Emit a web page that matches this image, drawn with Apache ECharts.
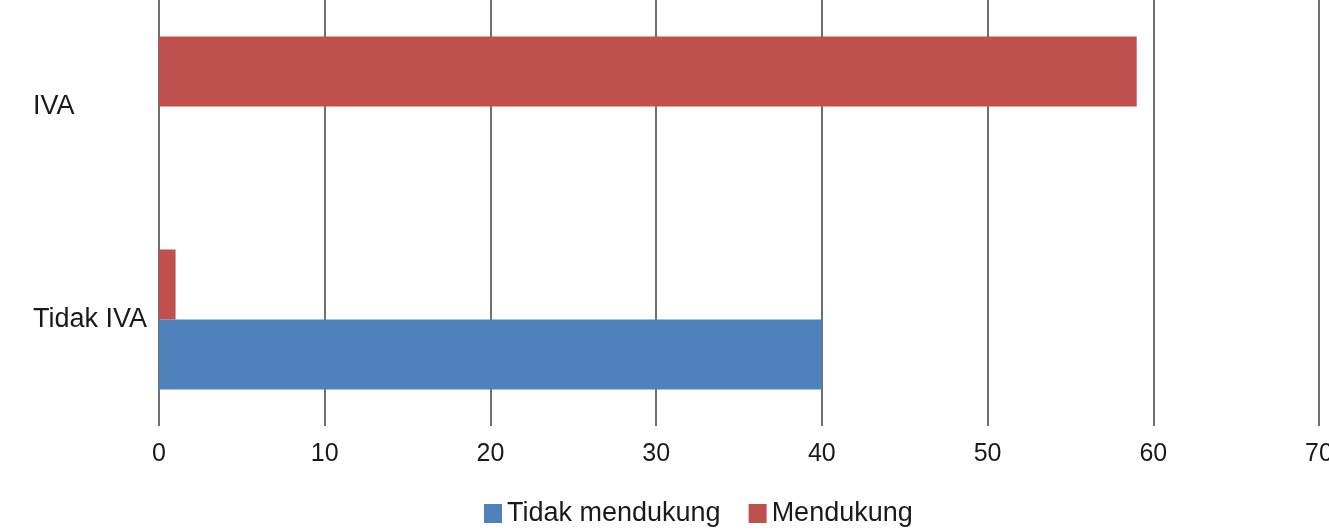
<!DOCTYPE html>
<html>
<head>
<meta charset="utf-8">
<script src="https://cdn.jsdelivr.net/npm/echarts@6/dist/echarts.min.js"></script>
<style>
html,body{margin:0;padding:0;background:#fff;}
#chart{width:1329px;height:530px;}
</style>
</head>
<body>
<div id="chart"></div>
<script>
var categories = ['Tidak IVA', 'IVA'];
var seriesNames = ['Tidak mendukung', 'Mendukung'];
var tidakMendukung = [40, 0];
var mendukung = [1, 59];
var xTicks = { min: 0, max: 70, interval: 10 };

var chart = echarts.init(document.getElementById('chart'));
var font = 'Liberation Sans, Arial, sans-serif';
chart.setOption({
  animation: false,
  backgroundColor: '#ffffff',
  grid: { left: 159, right: 10, top: 0, bottom: 104, containLabel: false, outerBoundsMode: 'none' },
  legend: {
    data: seriesNames,
    left: 484, top: 500,
    padding: 0,
    itemWidth: 18, itemHeight: 19, itemGap: 28,
    icon: 'rect',
    textStyle: { fontSize: 27, color: '#1a1a1a', fontFamily: font }
  },
  xAxis: {
    type: 'value',
    min: xTicks.min, max: xTicks.max, interval: xTicks.interval,
    axisLine: { show: false },
    axisTick: { show: false },
    splitLine: { show: true, lineStyle: { color: '#6f6f6f', width: 2 } },
    axisLabel: { fontSize: 25, color: '#1a1a1a', fontFamily: font, margin: 16 }
  },
  yAxis: {
    type: 'category',
    data: categories,
    axisLine: { show: false },
    axisTick: { show: false },
    axisLabel: { fontSize: 27, color: '#1a1a1a', fontFamily: font, align: 'left', margin: 126, padding: [8, 0, 0, 0] }
  },
  series: [
    { name: seriesNames[1], type: 'bar', data: mendukung, barWidth: 70, barGap: '0%', itemStyle: { color: '#C0504D' } },
    { name: seriesNames[0], type: 'bar', data: tidakMendukung, barWidth: 70, barGap: '0%', itemStyle: { color: '#4F81BD' } }
  ]
});
</script>
</body>
</html>
